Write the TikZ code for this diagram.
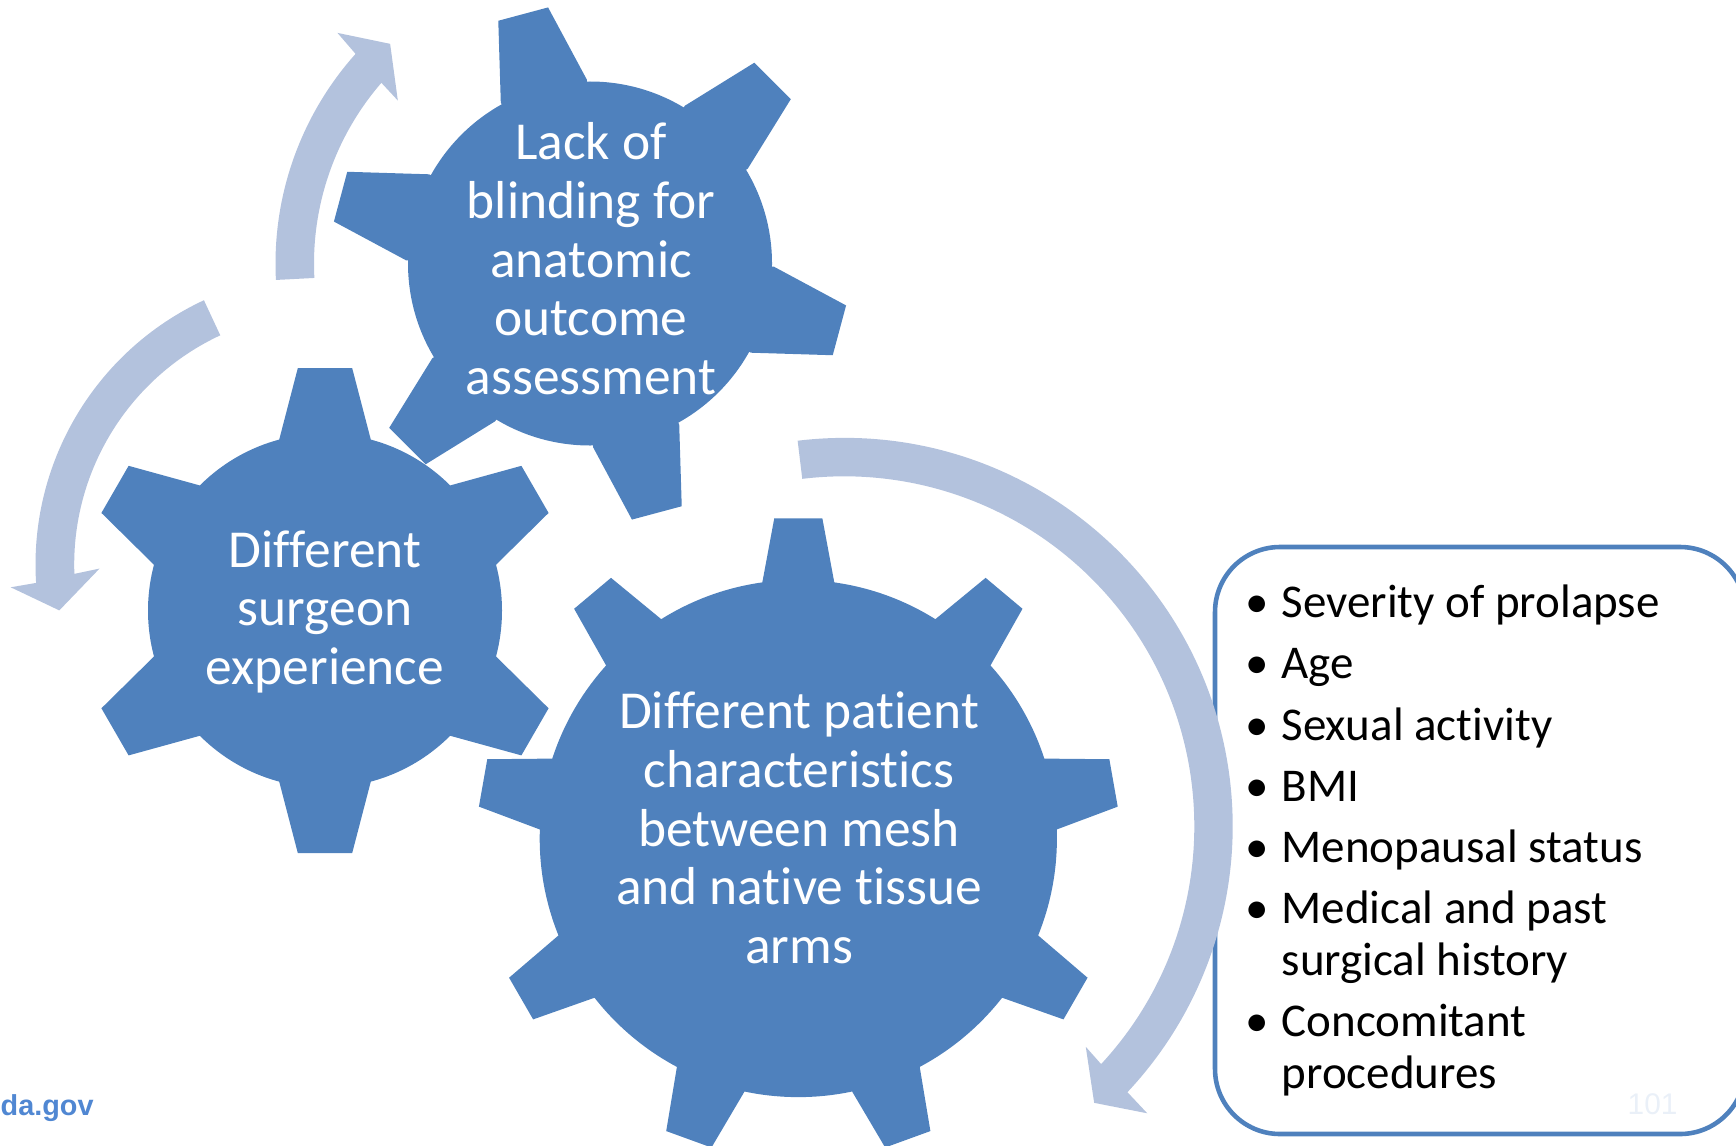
\documentclass[tikz,border=0pt]{standalone}
\usepackage{fontspec}
\setmainfont{Carlito}[Ligatures=NoCommon]
\newfontfamily\webfont{Liberation Sans}
\definecolor{GearBlue} {RGB}{79,129,189}
\definecolor{TurnBlue} {RGB}{179,194,221}
\definecolor{WebBlue}  {RGB}{80,135,210}
\definecolor{PageTint} {RGB}{234,240,248}
\usetikzlibrary{positioning,calc}

\begin{document}
\begin{tikzpicture}[
  gear/.style={fill=GearBlue},
  turnarrow/.style={fill=TurnBlue},
  gearlabel/.style={text=white,align=center,inner sep=0pt,anchor=base,
                    font=\fontsize{15.2}{16.7}\selectfont},
  factorbox/.style={draw=GearBlue,line width=1.3pt,rounded corners=0.65cm,
                    minimum width=5.3cm,minimum height=5.87cm}]
  \useasboundingbox (0,0) rectangle (17.36,11.45);

  % list of patient factors
  \node[factorbox] (box) at (14.8,3.045) {};
  \node[anchor=base west,inner sep=0pt,
        font=\fontsize{13.37}{14.71}\selectfont] (factors) at (12.41,5.274) {%
    \begin{tabular}[t]{@{}l@{\hspace{0.1cm}}l@{}}
      \makebox[0.3cm]{\textbullet} & Severity of prolapse\\[0.095cm]
      \makebox[0.3cm]{\textbullet} & Age\\[0.095cm]
      \makebox[0.3cm]{\textbullet} & Sexual activity\\[0.095cm]
      \makebox[0.3cm]{\textbullet} & BMI\\[0.095cm]
      \makebox[0.3cm]{\textbullet} & Menopausal status\\[0.095cm]
      \makebox[0.3cm]{\textbullet} & Medical and past\\
                                   & surgical history\\[0.095cm]
      \makebox[0.3cm]{\textbullet} & Concomitant\\
                                   & procedures
    \end{tabular}};

  % curved arrows round the gears
  \begin{scope}[shift={(5.90,8.815)}]
    \fill[turnarrow] (183:3.145) arc[start angle=183,end angle=138.2,radius=3.145]
      -- (137.6:3.42) -- (132.3:2.97) -- (139.7:2.52) -- (139.1:2.76)
      arc[start angle=139.1,end angle=183,radius=2.76] -- cycle;
  \end{scope}
  \begin{scope}[shift={(3.272,5.804)}]
    \fill[turnarrow] (115:2.917) arc[start angle=115,end angle=183.6,radius=2.917]
      -- (184.1:3.173) -- (189.7:2.718) -- (181:2.277) -- (182.1:2.53)
      arc[start angle=182.1,end angle=115,radius=2.53] -- cycle;
  \end{scope}
  \begin{scope}[shift={(8.443,3.187)}]
    \fill[turnarrow] (96.9:3.884) arc[start angle=96.9,end angle=-43.2,radius=3.884]
      -- (-43.45:4.173) -- (-47.9:3.727) -- (-42.4:3.27) -- (-42.8:3.50)
      arc[start angle=-42.8,end angle=96.9,radius=3.50] -- cycle;
  \end{scope}

  % gears: body circle plus teeth
  \begin{scope}[shift={(5.90,8.815)}]
    \fill[gear] (0,0) circle (1.82)
      foreach \a in {105,165,...,405} {
        (\a-14:1.84) -- (\a-5.7:2.595) -- (\a+5.7:2.595) -- (\a+14:1.84)
        -- (\a+14:1.4) -- (\a-14:1.4) -- cycle};
  \end{scope}
  \begin{scope}[shift={(3.25,5.344)}]
    \fill[gear] (0,0) circle (1.77)
      foreach \a in {90,150,...,390} {
        (\a-15:1.77) -- (\a-6.4:2.44) -- (\a+6.4:2.44) -- (\a+15:1.77)
        -- (\a+15:1.3) -- (\a-15:1.3) -- cycle};
  \end{scope}
  \begin{scope}[shift={(7.983,3.065)}]
    \fill[gear] (0,0) circle (2.586)
      foreach \a in {90,130,...,410} {
        (\a-8:2.586) -- (\a-4.3:3.21) -- (\a+4.3:3.21) -- (\a+8:2.586)
        -- (\a+8:2.1) -- (\a-8:2.1) -- cycle};
  \end{scope}

  % labels sit on the baseline of their last line
  \node[gearlabel] (blinding) at (5.91,7.504)
        {Lack of\\blinding for\\anatomic\\outcome\\assessment};
  \node[gearlabel] (surgeon) at (3.25,4.604)
        {Different\\surgeon\\experience};
  \node[gearlabel] (patient) at (7.99,1.815)
        {Different patient\\characteristics\\between mesh\\and native tissue\\arms};

  % footer
  \node[anchor=base west,inner sep=0pt,text=WebBlue,
        font=\webfont\bfseries\fontsize{8.2}{9}\selectfont] (site) at (0,0.30) {da.gov};
  \node[anchor=base west,inner sep=0pt,text=PageTint,
        font=\webfont\fontsize{8.5}{9}\selectfont] (page) at (16.27,0.31) {101};
\end{tikzpicture}
\end{document}
